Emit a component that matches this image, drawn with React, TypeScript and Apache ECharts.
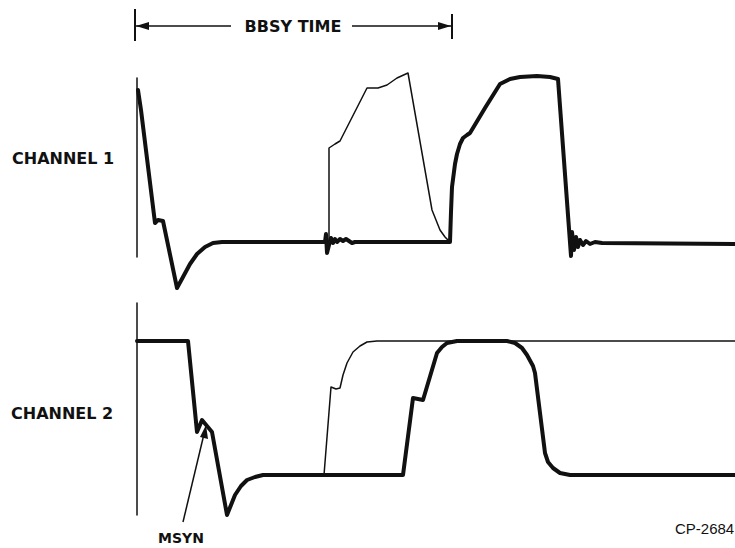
import { useEffect, useRef } from "react";
import * as echarts from "echarts";

// Channel 1 (units: time ticks on x, signal level on y; baseline = 0)
const ch1Thick: [number, number][] = [
  [138, 152], [141, 132], [155, 19], [158, 22], [163, 21], [177, -46], [183, -35],
  [190, -22], [197, -12], [205, -5], [213, -1], [222, 0], [322, 0], [325, 0],
  [326, 8], [327, -11], [329, -3], [331, 4], [333, -1], [335, 3], [337, 0],
  [340, 3], [343, 1], [346, 3], [349, 1], [352, -1], [355, 0], [450, 0],
  [451, 30], [452, 55], [455, 78], [457, 88], [460, 98], [463, 104], [467, 107],
  [470, 109], [485, 134], [500, 158], [510, 163], [520, 165], [537, 166],
  [550, 165], [558, 163], [571, -14], [572, 10], [574, -8], [576, 5], [578, -5],
  [580, 2], [583, -3], [586, 1], [590, -2], [595, 0], [602, -1], [735, -2],
];
const ch1Thin: [number, number][] = [
  [329, -3], [329, 94], [332, 96], [335, 98], [340, 101], [367, 154], [378, 154],
  [387, 157], [397, 164], [408, 169], [432, 32], [436, 22], [440, 12], [445, 5],
  [450, 0],
];

// Channel 2
const ch2Thick: [number, number][] = [
  [137, 134], [188, 134], [197, 43], [202, 55], [212, 43], [227, -40], [231, -30],
  [235, -20], [241, -11], [247, -5], [255, -2], [263, 0], [403, 0], [413, 77],
  [423, 75], [437, 122], [442, 128], [447, 132], [452, 133], [457, 134],
  [507, 134], [515, 132], [522, 127], [527, 120], [533, 109], [535, 102],
  [545, 22], [548, 13], [553, 7], [560, 2], [570, 0], [735, 0],
];
const ch2Thin: [number, number][] = [
  [324, 0], [331, 88], [336, 86], [340, 87], [343, 100], [347, 112], [353, 123],
  [360, 129], [367, 133], [377, 134], [735, 134],
];

const channelLabels = ["CHANNEL 1", "CHANNEL 2"];
const timeLabel = "BBSY TIME";
const markerLabel = "MSYN";
const figureId = "CP-2684";

const INK = "#111";

export default function App() {
  const ref = useRef<HTMLDivElement>(null);
  useEffect(() => {
    document.body.style.margin = "0";
    const chart = echarts.init(ref.current!, null, { renderer: "svg" });
    const yAxisBase = {
      type: "value" as const,
      axisLine: { show: true, onZero: false, lineStyle: { color: INK, width: 1.5 } },
      axisTick: { show: false },
      axisLabel: { show: false },
      splitLine: { show: false },
    };
    const trace = (data: [number, number][], idx: number, width: number) => ({
      type: "line",
      xAxisIndex: idx,
      yAxisIndex: idx,
      data,
      showSymbol: false,
      symbol: "none",
      clip: false,
      silent: true,
      lineStyle: { color: INK, width, join: "round", cap: "round" },
    });
    const boldFont = 'bold 16px "DejaVu Sans"';
    chart.setOption({
      animation: false,
      backgroundColor: "#fff",
      grid: [
        { left: 137, right: 0, top: 78, height: 179 },
        { left: 137, right: 0, top: 303, height: 212 },
      ],
      xAxis: [
        { type: "value", gridIndex: 0, min: 137, max: 735, show: false },
        { type: "value", gridIndex: 1, min: 137, max: 735, show: false },
      ],
      yAxis: [
        { ...yAxisBase, gridIndex: 0, min: -15, max: 164 },
        { ...yAxisBase, gridIndex: 1, min: -40, max: 172 },
      ],
      series: [
        trace(ch1Thin, 0, 1.5),
        trace(ch1Thick, 0, 4),
        trace(ch2Thin, 1, 1.5),
        trace(ch2Thick, 1, 4),
      ],
      graphic: [
        // BBSY bracket
        { type: "line", shape: { x1: 135, y1: 9, x2: 135, y2: 41 }, style: { stroke: INK, lineWidth: 2 } },
        { type: "line", shape: { x1: 452, y1: 14, x2: 452, y2: 39 }, style: { stroke: INK, lineWidth: 2 } },
        { type: "line", shape: { x1: 136, y1: 26, x2: 231, y2: 26 }, style: { stroke: INK, lineWidth: 1.5 } },
        { type: "line", shape: { x1: 352, y1: 26, x2: 451, y2: 26 }, style: { stroke: INK, lineWidth: 1.5 } },
        { type: "polygon", shape: { points: [[136, 26], [149, 22], [149, 30]] }, style: { fill: INK } },
        { type: "polygon", shape: { points: [[451, 26], [438, 22], [438, 30]] }, style: { fill: INK } },
        {
          type: "text",
          style: { text: timeLabel, x: 293, y: 26, font: boldFont, fill: INK, textAlign: "center", textVerticalAlign: "middle" },
        },
        {
          type: "text",
          style: { text: channelLabels[0], x: 12, y: 158, font: boldFont, fill: INK, textAlign: "left", textVerticalAlign: "middle" },
        },
        {
          type: "text",
          style: { text: channelLabels[1], x: 11, y: 413, font: boldFont, fill: INK, textAlign: "left", textVerticalAlign: "middle" },
        },
        // MSYN pointer
        { type: "line", shape: { x1: 183, y1: 522, x2: 204, y2: 434 }, style: { stroke: INK, lineWidth: 1.5 } },
        { type: "polygon", shape: { points: [[206, 425], [200, 437], [208, 439]] }, style: { fill: INK } },
        {
          type: "text",
          style: { text: markerLabel, x: 181, y: 538, font: 'bold 14px "DejaVu Sans"', fill: INK, textAlign: "center", textVerticalAlign: "middle" },
        },
        {
          type: "text",
          style: { text: figureId, x: 675, y: 528, font: '15px "Liberation Sans"', fill: INK, textAlign: "left", textVerticalAlign: "middle" },
        },
      ],
    });
    return () => chart.dispose();
  }, []);
  return <div ref={ref} style={{ width: 735, height: 548, background: "#fff" }} />;
}
